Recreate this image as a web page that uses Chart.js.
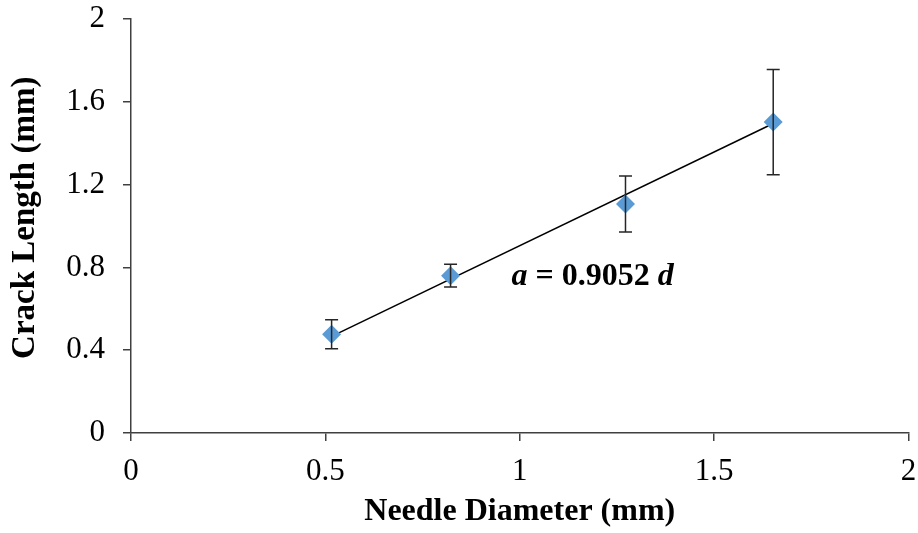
<!DOCTYPE html>
<html lang="en">
<head>
  <meta charset="UTF-8">
  <title>Crack Length vs Needle Diameter</title>
  <script src="https://cdn.jsdelivr.net/npm/chart.js"></script>
  <style>
    html, body { margin: 0; padding: 0; background: #fff; }
    #wrap { width: 918px; height: 533px; }
  </style>
</head>
<body>
<div id="wrap"><canvas id="crackChart" width="918" height="533"></canvas></div>
<script>
  // measured needle diameters (mm) and mean crack lengths (mm)
  const diameters = [0.516, 0.822, 1.272, 1.652];
  const crackLengths = [0.477, 0.760, 1.106, 1.502];
  const crackErrors = [0.070, 0.055, 0.135, 0.254];

  // linear fit through origin: a = slope * d
  const slope = 0.9052;
  const fitLabel = ['a', ' = 0.9052 ', 'd'];
  const labelAt = { x: 0.979, y: 0.715 };

  const serif = '"Liberation Serif", "Times New Roman", serif';

  const points = diameters.map((d, i) => ({ x: d, y: crackLengths[i] }));
  const dMin = Math.min(...diameters), dMax = Math.max(...diameters);
  const fitLine = [{ x: dMin, y: slope * dMin }, { x: dMax, y: slope * dMax }];

  // vertical error bars with caps
  const errorBars = {
    id: 'errorBars',
    afterDatasetsDraw(chart) {
      const ctx = chart.ctx, xs = chart.scales.x, ys = chart.scales.y;
      ctx.save();
      ctx.strokeStyle = '#262626';
      ctx.lineWidth = 1.5;
      diameters.forEach((d, i) => {
        const px = xs.getPixelForValue(d);
        const top = ys.getPixelForValue(crackLengths[i] + crackErrors[i]);
        const bot = ys.getPixelForValue(crackLengths[i] - crackErrors[i]);
        ctx.beginPath();
        ctx.moveTo(px, top); ctx.lineTo(px, bot);
        ctx.moveTo(px - 6.5, top); ctx.lineTo(px + 6.5, top);
        ctx.moveTo(px - 6.5, bot); ctx.lineTo(px + 6.5, bot);
        ctx.stroke();
      });
      ctx.restore();
    }
  };

  // equation label next to the fit line
  const fitText = {
    id: 'fitText',
    afterDraw(chart) {
      const ctx = chart.ctx;
      let px = chart.scales.x.getPixelForValue(labelAt.x);
      const py = chart.scales.y.getPixelForValue(labelAt.y);
      ctx.save();
      ctx.fillStyle = '#000';
      ctx.textBaseline = 'alphabetic';
      ctx.textAlign = 'left';
      fitLabel.forEach((part, i) => {
        ctx.font = (i === 1 ? 'bold ' : 'italic bold ') + '32px ' + serif;
        ctx.fillText(part, px, py);
        px += ctx.measureText(part).width;
      });
      ctx.restore();
    }
  };

  const axisColor = '#404040';
  const plainNum = v => String(+v.toFixed(1));

  new Chart(document.getElementById('crackChart'), {
    type: 'scatter',
    data: {
      datasets: [
        {
          label: 'fit',
          data: fitLine,
          showLine: true,
          borderColor: '#000',
          borderWidth: 1.5,
          pointRadius: 0,
          order: 2
        },
        {
          label: 'Crack length',
          data: points,
          pointStyle: 'rectRot',
          pointRadius: 9.5,
          backgroundColor: '#5B9BD5',
          borderColor: '#5B9BD5',
          borderWidth: 0,
          order: 1
        }
      ]
    },
    options: {
      responsive: false,
      animation: false,
      layout: { padding: { top: 19, right: 9, left: 0, bottom: 0 } },
      plugins: { legend: { display: false }, tooltip: { enabled: false } },
      scales: {
        x: {
          type: 'linear', min: 0, max: 2,
          afterFit(scale) {
            scale.height = 100;
            scale.paddingLeft = 0;
            scale.paddingRight = 0;
          },
          ticks: { stepSize: 0.5, color: '#000', padding: 12, callback: plainNum,
                   font: { family: serif, size: 31 }, maxRotation: 0 },
          grid: { drawOnChartArea: false, tickLength: 8, color: axisColor, lineWidth: 1.5 },
          border: { color: axisColor, width: 1.5 },
          title: { display: true, text: 'Needle Diameter (mm)', color: '#000',
                   font: { family: serif, size: 32, weight: 'bold' },
                   padding: { top: 0, bottom: 2 } }
        },
        y: {
          type: 'linear', min: 0, max: 2,
          afterFit(scale) {
            scale.width = 131;
            scale.paddingTop = 0;
            scale.paddingBottom = 0;
          },
          ticks: { stepSize: 0.4, color: '#000', padding: 18, callback: plainNum,
                   font: { family: serif, size: 31 } },
          grid: { drawOnChartArea: false, tickLength: 8, color: axisColor, lineWidth: 1.5 },
          border: { color: axisColor, width: 1.5 },
          title: { display: true, text: '\u00a0\u00a0Crack Length (mm)', color: '#000',
                   font: { family: serif, size: 33, weight: 'bold' },
                   padding: { top: 6, bottom: 0 } }
        }
      }
    },
    plugins: [errorBars, fitText]
  });
</script>
</body>
</html>
